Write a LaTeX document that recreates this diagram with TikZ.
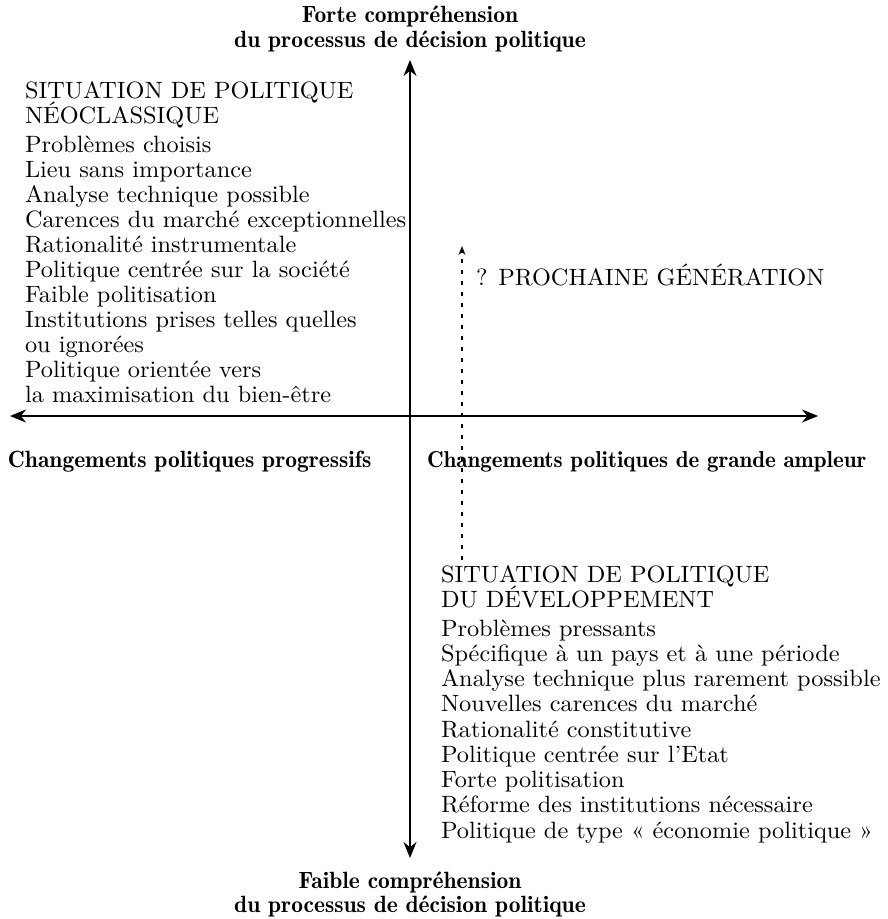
\documentclass[tikz,border=0pt]{standalone}
\usepackage{fontspec}
\usetikzlibrary{arrows.meta}
\newfontfamily\semib{lmromandemi10-regular.otf}
\newfontfamily\bodyf[FakeStretch=1.03]{lmroman10-regular.otf}
\begin{document}
\begin{tikzpicture}[x=1pt,y=-1pt,
  every node/.style={inner sep=0pt, outer sep=0pt, font=\fontsize{23.6}{25}\selectfont\bodyf},
  txt/.style={anchor=base west},
  lbl/.style={font=\fontsize{23.5}{25}\selectfont\semib},
  axis/.style={line width=1.8pt, {Stealth[length=16pt,width=13pt]}-{Stealth[length=16pt,width=13pt]}},
  dots/.style={line width=1.2pt, dash pattern=on 4pt off 7pt, -{Stealth[length=9pt,width=7pt]}}]
\useasboundingbox (0,0) rectangle (887,919);
% axes
\coordinate (top) at (410,60);
\coordinate (bot) at (410,858);
\coordinate (lft) at (10,416);
\coordinate (rgt) at (818,416);
\draw[axis] (bot) -- (top);
\draw[axis] (lft) -- (rgt);
% axis labels
\node[lbl, anchor=base] (t1) at (410,22) {Forte compréhension};
\node[lbl, anchor=base] (t2) at (410,47) {du processus de décision politique};
\node[lbl, anchor=base] (b1) at (410,888) {Faible compréhension};
\node[lbl, anchor=base] (b2) at (410,912) {du processus de décision politique};
\node[lbl, anchor=base west] (l1) at (8,467) {Changements politiques progressifs};
\node[lbl, anchor=base west, font=\fontsize{23}{25}\selectfont\semib] (r1) at (427,467) {Changements politiques de grande ampleur};
% neoclassical block
\node[txt] (nh1) at (25,98) {SITUATION DE POLITIQUE};
\node[txt] (nh2) at (25,123) {NÉOCLASSIQUE};
\foreach \t [count=\i from 0] in {Problèmes choisis, Lieu sans importance, Analyse technique possible, Carences du marché exceptionnelles, Rationalité instrumentale, Politique centrée sur la société, Faible politisation, Institutions prises telles quelles, ou ignorées, Politique orientée vers, la maximisation du bien-être}
  \node[txt] (n\i) at (25,152+25*\i) {\t};
% next generation
\coordinate (dA) at (462,560);
\coordinate (dB) at (462,246);
\draw[dots] (dA) -- (dB);
\node[txt] (ng) at (476,285) {? PROCHAINE GÉNÉRATION};
% development block
\node[txt] (dh1) at (441,582) {SITUATION DE POLITIQUE};
\node[txt] (dh2) at (441,607) {DU DÉVELOPPEMENT};
\foreach \t [count=\i from 0] in {Problèmes pressants, Spécifique à un pays et à une période, Analyse technique plus rarement possible, Nouvelles carences du marché, Rationalité constitutive, Politique centrée sur l’Etat, Forte politisation, Réforme des institutions nécessaire, Politique de type « économie politique »}
  \node[txt] (d\i) at (441,636+25.25*\i) {\t};
\end{tikzpicture}
\end{document}
